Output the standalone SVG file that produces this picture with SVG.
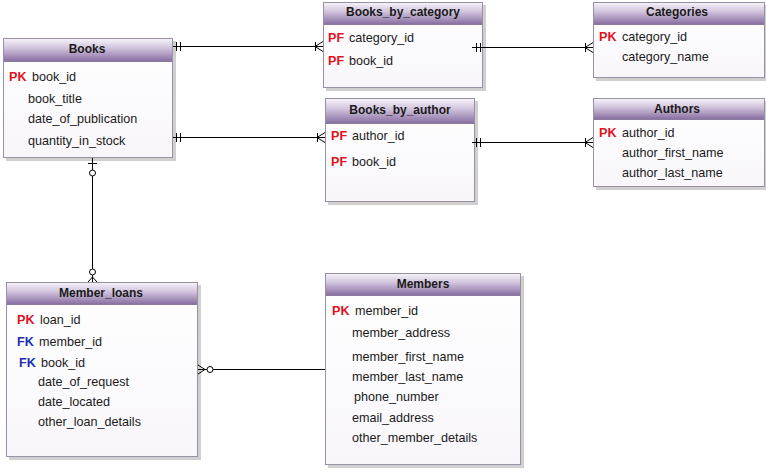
<svg xmlns="http://www.w3.org/2000/svg" width="766" height="473" viewBox="0 0 766 473">
<defs>
<linearGradient id="hdr" x1="0" y1="0" x2="0" y2="1">
<stop offset="0" stop-color="#f5f1f8"/>
<stop offset="0.4" stop-color="#d2c5de"/>
<stop offset="1" stop-color="#8a70a3"/>
</linearGradient>
<linearGradient id="body" x1="0" y1="0" x2="0" y2="1">
<stop offset="0" stop-color="#ffffff"/>
<stop offset="1" stop-color="#f8f6fa"/>
</linearGradient>
</defs>
<style>
.shadow{fill:#cfcfcf}
.box{fill:url(#body);stroke:#9a90a6;stroke-width:1}
.hdr{fill:url(#hdr)}
.sep{stroke:#8a7a9c;stroke-width:1}
.title{font-family:"Liberation Sans",Arial,sans-serif;font-size:12px;font-weight:bold;fill:#1a1a1a;text-anchor:middle}
.f{font-family:"Liberation Sans",Arial,sans-serif;font-size:12.6px;fill:#1a1a1a}
.pk{font-family:"Liberation Sans",Arial,sans-serif;font-size:12.6px;font-weight:bold;fill:#e0141e}
.fk{font-family:"Liberation Sans",Arial,sans-serif;font-size:12.6px;font-weight:bold;fill:#1a2fb4}
.c{fill:none;stroke:#000;stroke-width:1}
.o{fill:#fff;stroke:#000;stroke-width:1}
</style>
<rect width="766" height="473" fill="#fff"/>

<g id="books">
<rect class="shadow" x="6" y="41" width="170" height="120"/>
<rect class="box" x="3.5" y="38.5" width="169" height="119"/>
<rect class="hdr" x="4" y="39" width="168" height="22"/>
<line class="sep" x1="4" y1="61.5" x2="172" y2="61.5"/>
<text class="title" x="87" y="53">Books</text>
<text class="pk" x="9" y="81">PK</text><text class="f" x="32" y="81">book_id</text>
<text class="f" x="28" y="103">book_title</text>
<text class="f" x="28" y="123">date_of_publication</text>
<text class="f" x="28" y="145">quantity_in_stock</text>
</g>

<g id="books_by_category">
<rect class="shadow" x="326" y="5" width="160" height="86"/>
<rect class="box" x="323.5" y="2.5" width="159" height="85"/>
<rect class="hdr" x="324" y="3" width="158" height="21"/>
<line class="sep" x1="324" y1="24.5" x2="482" y2="24.5"/>
<text class="title" x="403" y="16">Books_by_category</text>
<text class="pk" x="328" y="42">PF</text><text class="f" x="349" y="42">category_id</text>
<text class="pk" x="328" y="65">PF</text><text class="f" x="349" y="65">book_id</text>
</g>

<g id="categories">
<rect class="shadow" x="596" y="5" width="170" height="76"/>
<rect class="box" x="593.5" y="2.5" width="171" height="75"/>
<rect class="hdr" x="594" y="3" width="170" height="21"/>
<line class="sep" x1="594" y1="24.5" x2="764" y2="24.5"/>
<text class="title" x="677" y="16">Categories</text>
<text class="pk" x="599" y="41">PK</text><text class="f" x="622" y="41">category_id</text>
<text class="f" x="622" y="61">category_name</text>
</g>

<g id="books_by_author">
<rect class="shadow" x="328" y="101" width="150" height="104"/>
<rect class="box" x="325.5" y="98.5" width="149" height="103"/>
<rect class="hdr" x="326" y="99" width="148" height="24"/>
<line class="sep" x1="326" y1="123.5" x2="474" y2="123.5"/>
<text class="title" x="400" y="114">Books_by_author</text>
<text class="pk" x="331" y="140">PF</text><text class="f" x="352" y="140">author_id</text>
<text class="pk" x="331" y="166">PF</text><text class="f" x="352" y="166">book_id</text>
</g>

<g id="authors">
<rect class="shadow" x="596" y="101" width="170" height="89"/>
<rect class="box" x="593.5" y="98.5" width="171" height="88"/>
<rect class="hdr" x="594" y="99" width="170" height="20"/>
<line class="sep" x1="594" y1="119.5" x2="764" y2="119.5"/>
<text class="title" x="677" y="113">Authors</text>
<text class="pk" x="599" y="137">PK</text><text class="f" x="622" y="137">author_id</text>
<text class="f" x="622" y="157">author_first_name</text>
<text class="f" x="622" y="177">author_last_name</text>
</g>

<g id="member_loans">
<rect class="shadow" x="9" y="285" width="192" height="175"/>
<rect class="box" x="6.5" y="282.5" width="191" height="174"/>
<rect class="hdr" x="7" y="283" width="190" height="21"/>
<line class="sep" x1="7" y1="304.5" x2="197" y2="304.5"/>
<text class="title" x="101" y="297">Member_loans</text>
<text class="pk" x="17" y="324">PK</text><text class="f" x="40" y="324">loan_id</text>
<text class="fk" x="17" y="346">FK</text><text class="f" x="39" y="346">member_id</text>
<text class="fk" x="19" y="367">FK</text><text class="f" x="41" y="367">book_id</text>
<text class="f" x="38" y="386">date_of_request</text>
<text class="f" x="38" y="406">date_located</text>
<text class="f" x="38" y="426">other_loan_details</text>
</g>

<g id="members">
<rect class="shadow" x="328" y="276" width="196" height="192"/>
<rect class="box" x="325.5" y="273.5" width="195" height="191"/>
<rect class="hdr" x="326" y="274" width="194" height="21"/>
<line class="sep" x1="326" y1="295.5" x2="520" y2="295.5"/>
<text class="title" x="423" y="288">Members</text>
<text class="pk" x="332" y="315">PK</text><text class="f" x="355" y="315">member_id</text>
<text class="f" x="352" y="337">member_address</text>
<text class="f" x="352" y="361">member_first_name</text>
<text class="f" x="352" y="381">member_last_name</text>
<text class="f" x="354" y="401">phone_number</text>
<text class="f" x="352" y="422">email_address</text>
<text class="f" x="352" y="442">other_member_details</text>
</g>

<g id="connectors">
<path class="c" d="M173,46.5H323M176.5,42V51M180.5,42V51M315.5,42V51M315,46.5L323,41.5M315,46.5L323,51.5"/>
<path class="c" d="M173,137.5H325M176.5,133V142M180.5,133V142M317.5,133V142M317,137.5L325,132.5M317,137.5L325,142.5"/>
<path class="c" d="M472,47.5H593M476.5,43V52M480.5,43V52M585.5,43V52M585,47.5L593,42.5M585,47.5L593,52.5"/>
<path class="c" d="M472,142.5H593M476.5,138V147M480.5,138V147M585.5,138V147M585,142.5L593,137.5M585,142.5L593,147.5"/>
<path class="c" d="M92.5,158V282M88,163.5H97M92.5,277L88,282M92.5,277L97,282"/>
<circle class="o" cx="92.5" cy="173" r="3"/>
<circle class="o" cx="92.5" cy="272" r="3"/>
<path class="c" d="M198,369.5H325M205,369.5L198,365M205,369.5L198,374"/>
<circle class="o" cx="210" cy="369.5" r="3"/>
</g>
</svg>
